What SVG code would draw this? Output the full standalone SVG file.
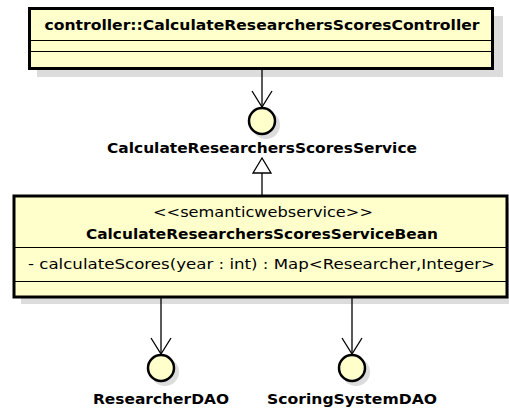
<svg xmlns="http://www.w3.org/2000/svg" width="509" height="412" viewBox="0 0 509 412">
<style>
.box{fill:#FFFFCC;stroke:#000;stroke-width:3}
.shadow{fill:#dcdcdc;stroke:none}
.div{stroke:#000;stroke-width:1}
.iface{fill:#FFFFCC;stroke:#000;stroke-width:2.5}
.conn{stroke:#000;stroke-width:1.3;fill:none}
.b{font-family:"DejaVu Sans","Liberation Sans",sans-serif;font-weight:bold;font-size:14.5px;fill:#000}
.r{font-family:"DejaVu Sans","Liberation Sans",sans-serif;font-size:14.5px;fill:#000}
</style>
<rect width="509" height="412" fill="#fff"/>
<g id="controller">
<rect class="shadow" x="37" y="16" width="466" height="61"/>
<rect class="box" x="29.5" y="8.5" width="463" height="60"/>
<line class="div" x1="31" y1="40.5" x2="491" y2="40.5"/>
<line class="div" x1="31" y1="51.5" x2="491" y2="51.5"/>
<text class="b" x="262" y="30" text-anchor="middle" textLength="435" lengthAdjust="spacingAndGlyphs">controller::CalculateResearchersScoresController</text>
</g>
<g id="service">
<circle class="shadow" cx="266" cy="125" r="14"/>
<circle class="iface" cx="262" cy="121" r="13"/>
<text class="b" x="262" y="153" text-anchor="middle" textLength="310" lengthAdjust="spacingAndGlyphs">CalculateResearchersScoresService</text>
</g>
<g id="bean">
<rect class="shadow" x="21" y="203" width="495" height="101"/>
<rect class="box" x="14" y="196" width="493" height="101"/>
<line class="div" x1="15" y1="247.5" x2="506" y2="247.5"/>
<line class="div" x1="15" y1="281.5" x2="506" y2="281.5"/>
<text class="r" x="263" y="217" text-anchor="middle" textLength="220" lengthAdjust="spacingAndGlyphs">&lt;&lt;semanticwebservice&gt;&gt;</text>
<text class="b" x="262" y="239" text-anchor="middle" textLength="352" lengthAdjust="spacingAndGlyphs">CalculateResearchersScoresServiceBean</text>
<text class="r" x="28" y="269" textLength="467" lengthAdjust="spacingAndGlyphs">- calculateScores(year : int) : Map&lt;Researcher,Integer&gt;</text>
</g>
<g id="researcherDAO">
<circle class="shadow" cx="165" cy="372" r="14"/>
<circle class="iface" cx="161" cy="368" r="13"/>
<text class="b" x="161" y="404" text-anchor="middle" textLength="136" lengthAdjust="spacingAndGlyphs">ResearcherDAO</text>
</g>
<g id="scoringSystemDAO">
<circle class="shadow" cx="356" cy="372" r="14"/>
<circle class="iface" cx="352" cy="368" r="13"/>
<text class="b" x="352" y="404" text-anchor="middle" textLength="170" lengthAdjust="spacingAndGlyphs">ScoringSystemDAO</text>
</g>
<g id="connectors">
<line class="conn" x1="262" y1="70" x2="262" y2="107"/>
<polyline class="conn" points="252,91 262,107 272,91"/>
<line class="conn" x1="262" y1="173" x2="262" y2="195"/>
<polygon points="262,158 253,173 271,173" fill="#fff" stroke="#000" stroke-width="1.3"/>
<line class="conn" x1="161" y1="298" x2="161" y2="354"/>
<polyline class="conn" points="151,338 161,354 171,338"/>
<line class="conn" x1="352" y1="298" x2="352" y2="354"/>
<polyline class="conn" points="342,338 352,354 362,338"/>
</g>
</svg>
